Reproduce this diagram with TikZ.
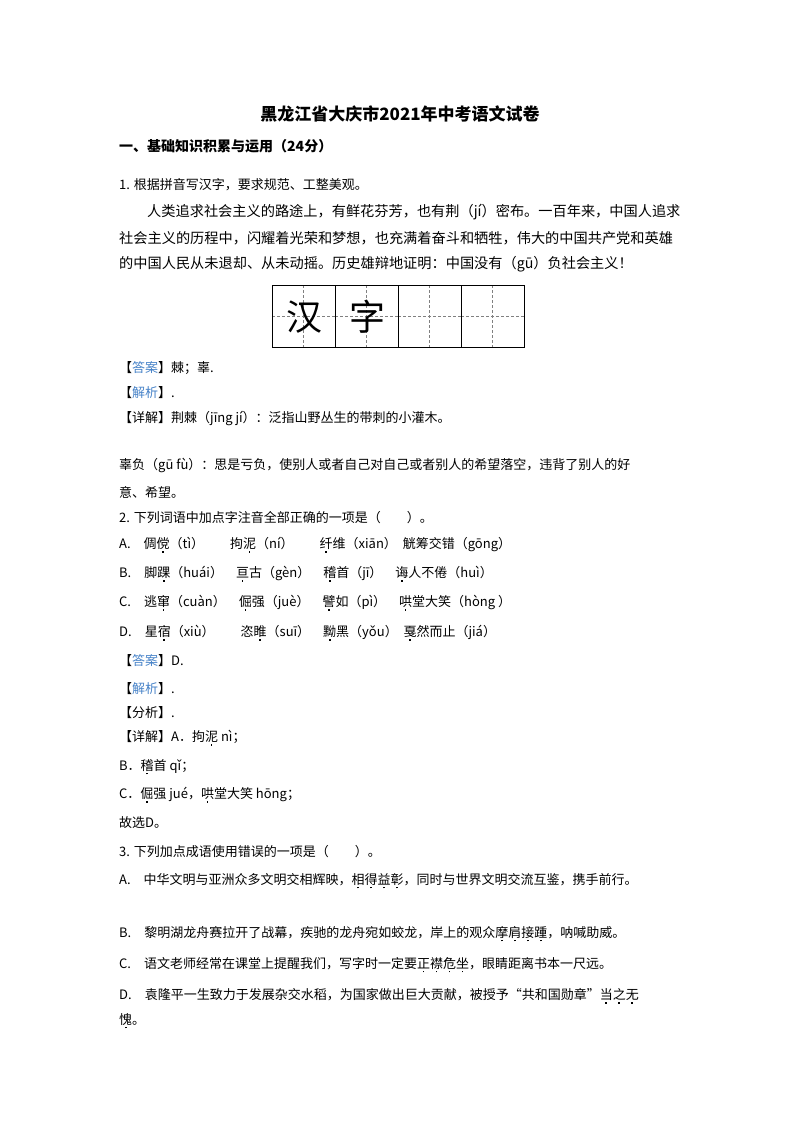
\documentclass[tikz,border=0pt]{standalone}
\usepackage{fontspec}
\setmainfont{Liberation Serif}
\newfontfamily\cjk{Noto Sans CJK SC}
\definecolor{ansblue}{RGB}{70,130,200}
\newcommand\zd[1]{\ooalign{#1\cr\hidewidth\raisebox{-0.3em}{\rule{1.6pt}{1.6pt}}\hidewidth\cr}}
\begin{document}
\begin{tikzpicture}[x=1pt,y=-1pt,
  tx/.style={anchor=west,inner sep=0,font=\cjk\fontsize{13}{13}\selectfont},
  px/.style={anchor=west,inner sep=0,font=\cjk\fontsize{14.2}{14.2}\selectfont},
  cell/.style={draw,line width=1.4pt,minimum width=63pt,minimum height=62pt,inner sep=0,font=\cjk\fontsize{36}{36}\selectfont},
  guide/.style={densely dashed,gray,line width=0.6pt}]
\useasboundingbox[fill=white] (0,0) rectangle (800,1132);
\node[font=\cjk\bfseries\fontsize{17}{17}\selectfont] (title) at (400,114) {黑龙江省大庆市2021年中考语文试卷};
\node[tx,font=\cjk\bfseries\fontsize{14}{14}\selectfont] (s1) at (119,146) {一、基础知识积累与运用（24分）};
\node[tx] (q1) at (119,185) {1. 根据拼音写汉字，要求规范、工整美观。};
\node[px] (p1) at (147,212) {人类追求社会主义的路途上，有鲜花芬芳，也有荆（jí）密布。一百年来，中国人追求};
\node[px] (p2) at (119,238) {社会主义的历程中，闪耀着光荣和梦想，也充满着奋斗和牺牲，伟大的中国共产党和英雄};
\node[px] (p3) at (119,264) {的中国人民从未退却、从未动摇。历史雄辩地证明：中国没有（gū）负社会主义！};
% grid
\foreach \i/\t in {0/汉,1/字,2/{},3/{}}{
  \draw[guide] (272+63*\i+31.5,285) -- (272+63*\i+31.5,347);
  \draw[guide] (272+63*\i,316) -- (272+63*\i+63,316);
  \node[cell,anchor=north west] (c\i) at (272+63*\i,285) {\t};
}
\node[tx] (a1) at (119,368) {【{\color{ansblue}答案}】棘；辜.};
\node[tx] (j1) at (119,393) {【{\color{ansblue}解析}】.};
\node[tx] (d1) at (119,418) {【详解】荆棘（jīng jí）：泛指山野丛生的带刺的小灌木。};
\node[tx] (d2) at (119,465) {辜负（gū fù）：思是亏负，使别人或者自己对自己或者别人的希望落空，违背了别人的好};
\node[tx] (d3) at (119,492) {意、希望。};
\node[tx] (q2) at (119,518) {2. 下列词语中加点字注音全部正确的一项是（\quad\quad ）。};
\node[tx] (oa) at (119,545) {A.\quad 倜\zd{傥}（tì）\qquad 拘\zd{泥}（ní）\qquad \zd{纤}维（xiān）\ \ 觥筹交错（gōng）};
\node[tx] (ob) at (119,574) {B.\quad 脚\zd{踝}（huái）\quad \zd{亘}古（gèn）\quad \zd{稽}首（jī）\quad \zd{诲}人不倦（huì）};
\node[tx] (oc) at (119,603) {C.\quad 逃\zd{窜}（cuàn）\quad \zd{倔}强（juè）\quad \zd{譬}如（pì）\quad \zd{哄}堂大笑（hòng ）};
\node[tx] (od) at (119,633) {D.\quad 星\zd{宿}（xiù）\qquad 恣\zd{睢}（suī）\quad \zd{黝}黑（yǒu）\ \ \zd{戛}然而止（jiá）};
\node[tx] (a2) at (119,661) {【{\color{ansblue}答案}】D.};
\node[tx] (j2) at (119,689) {【{\color{ansblue}解析}】.};
\node[tx] (f2) at (119,713) {【分析】.};
\node[tx] (d21) at (119,738) {【详解】A．拘\zd{泥} nì；};
\node[tx] (d22) at (119,767) {B．\zd{稽}首 qǐ；};
\node[tx] (d23) at (119,795) {C．\zd{倔}强 jué，\zd{哄}堂大笑 hōng；};
\node[tx] (d24) at (119,823) {故选D。};
\node[tx] (q3) at (119,852) {3. 下列加点成语使用错误的一项是（\quad\quad ）。};
\node[tx] (ta) at (119,881) {A.\quad 中华文明与亚洲众多文明交相辉映，\zd{相}\zd{得}\zd{益}\zd{彰}，同时与世界文明交流互鉴，携手前行。};
\node[tx] (tb) at (119,934) {B.\quad 黎明湖龙舟赛拉开了战幕，疾驰的龙舟宛如蛟龙，岸上的观众\zd{摩}\zd{肩}\zd{接}\zd{踵}，呐喊助威。};
\node[tx] (tc) at (119,965) {C.\quad 语文老师经常在课堂上提醒我们，写字时一定要\zd{正}\zd{襟}\zd{危}\zd{坐}，眼睛距离书本一尺远。};
\node[tx] (td) at (119,996) {D.\quad 袁隆平一生致力于发展杂交水稻，为国家做出巨大贡献，被授予“共和国勋章”\zd{当}\zd{之}\zd{无}};
\node[tx] (td2) at (119,1021) {\zd{愧}。};
\end{tikzpicture}
\end{document}
